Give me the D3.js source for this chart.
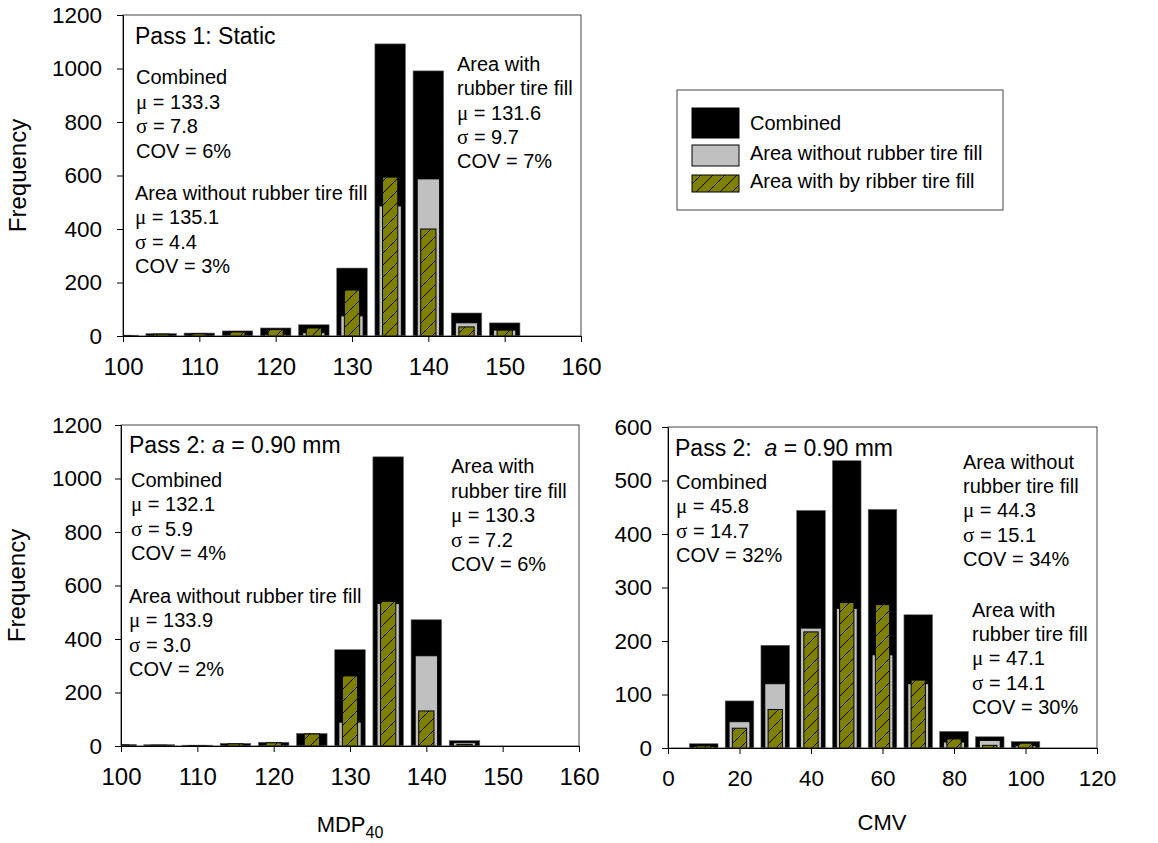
<!DOCTYPE html>
<html>
<head>
<meta charset="utf-8">
<script src="https://cdn.jsdelivr.net/npm/d3@7"></script>
<style>
body { margin: 0; background: #fff; }
svg { display: block; font-family: Arial, "Liberation Sans", sans-serif; }
text { white-space: pre; }
</style>
</head>
<body>
<svg id="fig" width="1158" height="843"></svg>
<script>
// ---- data ----
// Pass 1 (static), MDP40 histogram, bins of 5
const p1Bins     = [100, 105, 110, 115, 120, 125, 130, 135, 140, 145, 150];
const p1Combined = [3, 9, 11, 19, 30, 42, 254, 1092, 991, 86, 49];
const p1Without  = [1, 2, 3, 4, 6, 12, 75, 486, 587, 49, 22];
const p1With     = [2, 7, 8, 15, 24, 30, 172, 594, 400, 34, 22];

// Pass 2, MDP40
const p2Bins     = [100, 105, 110, 115, 120, 125, 130, 135, 140, 145];
const p2Combined = [6, 5, 3, 10, 14, 47, 360, 1081, 472, 20];
const p2Without  = [2, 2, 1, 3, 4, 3, 89, 532, 337, 12];
const p2With     = [4, 3, 2, 8, 12, 45, 262, 541, 131, 6];

// Pass 2, CMV, bins of 10
const cmvBins     = [10, 20, 30, 40, 50, 60, 70, 80, 90, 100];
const cmvCombined = [8, 88, 192, 444, 537, 446, 249, 31, 21, 12];
const cmvWithout  = [3, 49, 120, 224, 261, 174, 120, 11, 14, 4];
const cmvWith     = [4, 37, 72, 217, 272, 268, 127, 17, 5, 9];

const mdpTicks  = [100, 110, 120, 130, 140, 150, 160];
const cmvTicks  = [0, 20, 40, 60, 80, 100, 120];
const freqTicksA = [0, 200, 400, 600, 800, 1000, 1200];
const freqTicksB = [0, 100, 200, 300, 400, 500, 600];

const legendLabels = ["Combined", "Area without rubber tire fill", "Area with by ribber tire fill"];

// annotation text blocks
const p1NotesCombined = ["Combined", "μ = 133.3", "σ = 7.8", "COV = 6%"];
const p1NotesWithout  = ["Area without rubber tire fill", "μ = 135.1", "σ = 4.4", "COV = 3%"];
const p1NotesWith     = ["Area with", "rubber tire fill", "μ = 131.6", "σ = 9.7", "COV = 7%"];
const p2NotesCombined = ["Combined", "μ = 132.1", "σ = 5.9", "COV = 4%"];
const p2NotesWithout  = ["Area without rubber tire fill", "μ = 133.9", "σ = 3.0", "COV = 2%"];
const p2NotesWith     = ["Area with", "rubber tire fill", "μ = 130.3", "σ = 7.2", "COV = 6%"];
const cmvNotesCombined = ["Combined", "μ = 45.8", "σ = 14.7", "COV = 32%"];
const cmvNotesWithout  = ["Area without", "rubber tire fill", "μ = 44.3", "σ = 15.1", "COV = 34%"];
const cmvNotesWith     = ["Area with", "rubber tire fill", "μ = 47.1", "σ = 14.1", "COV = 30%"];

const svg = d3.select("#fig");
svg.append("rect").attr("width", 1158).attr("height", 843).attr("fill", "#fff");

// hatch for "with rubber tire fill"
const defs = svg.append("defs");
const pat = defs.append("pattern")
    .attr("id", "hatch")
    .attr("patternUnits", "userSpaceOnUse")
    .attr("width", 12).attr("height", 12);
pat.append("rect").attr("width", 12).attr("height", 12).attr("fill", "#808000");
pat.append("path")
    .attr("d", "M0,12 L12,0 M-3,3 L3,-3 M9,15 L15,9")
    .attr("stroke", "#000").attr("stroke-width", 1);

let clipN = 0;

function notes(g, lines, x, y0, dy) {
    const t = g.append("text").attr("font-size", 20).attr("fill", "#000");
    lines.forEach((s, i) => {
        const row = t.append("tspan").attr("x", x).attr("y", y0 + i * dy);
        if (s[0] === "μ" || s[0] === "σ") {
            row.append("tspan").attr("font-family", "'Liberation Serif', 'Times New Roman', serif")
                .attr("font-size", 21).text(s[0]);
            row.append("tspan").text(s.slice(1));
        } else {
            row.text(s);
        }
    });
}

function panel(o) {
    const g = svg.append("g");
    const x = d3.scaleLinear().domain(o.xDomain).range([o.left, o.right]);
    const y = d3.scaleLinear().domain(o.yDomain).range([o.bottom, o.top]);
    const step = x(o.bins[1]) - x(o.bins[0]);

    const cid = "clip" + (clipN++);
    defs.append("clipPath").attr("id", cid).append("rect")
        .attr("x", o.left).attr("y", o.top)
        .attr("width", o.right - o.left).attr("height", o.bottom - o.top);

    const bars = g.append("g").attr("clip-path", `url(#${cid})`);
    const layers = [
        {vals: o.combined, w: 0.8, fill: "#000", stroke: "#666", sw: 0.6},
        {vals: o.without, w: 0.58, fill: "#c0c0c0", stroke: "#000", sw: 0.8},
        {vals: o.with, w: 0.4, fill: "url(#hatch)", stroke: "#000", sw: 1}
    ];
    layers.forEach(l => {
        bars.append("g").selectAll("rect")
            .data(o.bins.map((b, i) => ({b, v: l.vals[i]})))
            .join("rect")
            .attr("x", d => x(d.b) - step * l.w / 2)
            .attr("width", step * l.w)
            .attr("y", d => y(d.v))
            .attr("height", d => y(0) - y(d.v))
            .attr("fill", l.fill)
            .attr("stroke", l.stroke)
            .attr("stroke-width", l.sw);
    });

    // frame
    g.append("rect")
        .attr("x", o.left).attr("y", o.top)
        .attr("width", o.right - o.left).attr("height", o.bottom - o.top)
        .attr("fill", "none").attr("stroke", "#444").attr("stroke-width", 1);

    const ax = g.append("g")
        .attr("transform", `translate(0,${o.bottom})`)
        .call(d3.axisBottom(x).tickValues(o.xTicks).tickFormat(d3.format("d"))
            .tickSize(6).tickSizeOuter(0).tickPadding(16));
    ax.selectAll("text").attr("font-size", o.xFont).attr("fill", "#000").attr("font-family", null);
    ax.selectAll("line,path").attr("stroke", "#000");

    const ay = g.append("g")
        .attr("transform", `translate(${o.left},0)`)
        .call(d3.axisLeft(y).tickValues(o.yTicks).tickFormat(d3.format("d"))
            .tickSize(6).tickSizeOuter(0).tickPadding(o.yPad));
    ay.selectAll("text").attr("font-size", 22.5).attr("fill", "#000").attr("font-family", null);
    ay.selectAll("line,path").attr("stroke", "#000");

    if (o.yTitle) {
        g.append("text")
            .attr("transform", `translate(${o.yTitleX},${(o.top + o.bottom) / 2}) rotate(-90)`)
            .attr("text-anchor", "middle").attr("font-size", 24).text("Frequency");
    }
    return {g, x, y};
}

// ---- panel 1 ----
const a = panel({
    left: 123, right: 581, top: 15, bottom: 336,
    xDomain: [100, 160], yDomain: [0, 1200],
    bins: p1Bins, combined: p1Combined, without: p1Without, with: p1With,
    xTicks: mdpTicks, yTicks: freqTicksA, xFont: 24, yPad: 15,
    yTitle: true, yTitleX: 26
});
a.g.append("text").attr("x", 135).attr("y", 44).attr("font-size", 23).text("Pass 1: Static");
notes(a.g, p1NotesCombined, 136, 84, 24.5);
notes(a.g, p1NotesWithout, 135, 200, 24.3);
notes(a.g, p1NotesWith, 457, 71, 24.3);

// ---- panel 2 ----
const b = panel({
    left: 121, right: 579, top: 425, bottom: 746,
    xDomain: [100, 160], yDomain: [0, 1200],
    bins: p2Bins, combined: p2Combined, without: p2Without, with: p2With,
    xTicks: mdpTicks, yTicks: freqTicksA, xFont: 24, yPad: 13,
    yTitle: true, yTitleX: 25
});
const t2 = b.g.append("text").attr("x", 129).attr("y", 453).attr("font-size", 23);
t2.append("tspan").text("Pass 2: ");
t2.append("tspan").attr("font-style", "italic").text("a");
t2.append("tspan").text(" = 0.90 mm");
notes(b.g, p2NotesCombined, 131, 487, 24.3);
notes(b.g, p2NotesWithout, 129, 603, 24.3);
notes(b.g, p2NotesWith, 451, 473, 24.5);
b.g.append("text").attr("x", 350).attr("y", 832).attr("text-anchor", "middle").attr("font-size", 22)
    .call(t => {
        t.append("tspan").text("MDP");
        t.append("tspan").attr("font-size", 16).attr("dy", 6).text("40");
    });

// ---- panel 3 ----
const c = panel({
    left: 668, right: 1097, top: 427, bottom: 748,
    xDomain: [0, 120], yDomain: [0, 600],
    bins: cmvBins, combined: cmvCombined, without: cmvWithout, with: cmvWith,
    xTicks: cmvTicks, yTicks: freqTicksB, xFont: 22.5, yPad: 10,
    yTitle: false
});
const t3 = c.g.append("text").attr("x", 675).attr("y", 456).attr("font-size", 23);
t3.append("tspan").text("Pass 2:  ");
t3.append("tspan").attr("font-style", "italic").text("a");
t3.append("tspan").text(" = 0.90 mm");
notes(c.g, cmvNotesCombined, 676, 489, 24.3);
notes(c.g, cmvNotesWithout, 963, 469, 24.2);
notes(c.g, cmvNotesWith, 972, 617, 24.2);
c.g.append("text").attr("x", 882).attr("y", 830).attr("text-anchor", "middle").attr("font-size", 22).text("CMV");

// ---- legend ----
const lg = svg.append("g");
lg.append("rect").attr("x", 677).attr("y", 90).attr("width", 326).attr("height", 120)
    .attr("fill", "#fff").attr("stroke", "#444").attr("stroke-width", 1);
const swatches = [
    {y: 108, h: 30, fill: "#000"},
    {y: 145, h: 21, fill: "#c0c0c0"},
    {y: 175, h: 17, fill: "url(#hatch)"}
];
const baselines = [130, 160, 188];
legendLabels.forEach((lab, i) => {
    lg.append("rect").attr("x", 692).attr("y", swatches[i].y)
        .attr("width", 47).attr("height", swatches[i].h)
        .attr("fill", swatches[i].fill).attr("stroke", "#000").attr("stroke-width", 1);
    lg.append("text").attr("x", 750).attr("y", baselines[i]).attr("font-size", 20).text(lab);
});
</script>
</body>
</html>
